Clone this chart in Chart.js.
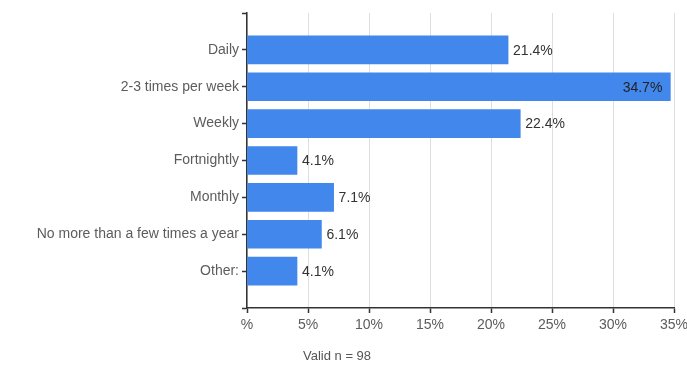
<!DOCTYPE html>
<html>
<head>
<meta charset="utf-8">
<script src="https://cdn.jsdelivr.net/npm/chart.js@4/dist/chart.umd.min.js"></script>
<style>
  html, body { margin: 0; padding: 0; background: #fff; }
  #wrap { width: 687px; height: 369px; }
</style>
</head>
<body>
<div id="wrap"><canvas id="freq-chart"></canvas></div>
<script>
const categories = ['Daily', '2-3 times per week', 'Weekly', 'Fortnightly', 'Monthly', 'No more than a few times a year', 'Other:'];
const percents = [21.4, 34.7, 22.4, 4.1, 7.1, 6.1, 4.1];
const xTicks = [0, 5, 10, 15, 20, 25, 30, 35];
const footnote = 'Valid n = 98';

const FONT = '"Liberation Sans", Arial, sans-serif';

// blank slots above and below so the axis ends get their own tick marks
const labels = [''].concat(categories, ['']);
const values = [null].concat(percents, [null]);

// value labels: after the bar end, or inside it when there's no room
const valueLabels = {
  id: 'valueLabels',
  afterDatasetsDraw(chart) {
    const ctx = chart.ctx;
    const meta = chart.getDatasetMeta(0);
    ctx.save();
    ctx.font = '14px ' + FONT;
    ctx.textBaseline = 'middle';
    meta.data.forEach((bar, i) => {
      const v = values[i];
      if (v == null) return;
      const text = v.toFixed(1) + '%';
      const w = ctx.measureText(text).width;
      if (bar.x + 5 + w > chart.chartArea.right) {
        ctx.textAlign = 'right';
        ctx.fillStyle = '#222';
        ctx.fillText(text, bar.x - 8, bar.y + 1);
      } else {
        ctx.textAlign = 'left';
        ctx.fillStyle = '#333';
        ctx.fillText(text, bar.x + 5, bar.y + 1);
      }
    });
    ctx.restore();
  }
};

const footnoteText = {
  id: 'footnoteText',
  afterDraw(chart) {
    const ctx = chart.ctx;
    const area = chart.chartArea;
    ctx.save();
    ctx.font = '13px ' + FONT;
    ctx.fillStyle = '#555';
    ctx.textAlign = 'left';
    ctx.textBaseline = 'middle';
    ctx.fillText(footnote, area.left + 56, area.bottom + 48);
    ctx.restore();
  }
};

const ctx = document.getElementById('freq-chart').getContext('2d');
const myChart = new Chart(ctx, {
  type: 'bar',
  data: {
    labels: labels,
    datasets: [{
      data: values,
      backgroundColor: '#4287ec',
      borderWidth: 0,
      barThickness: 28
    }]
  },
  options: {
    indexAxis: 'y',
    responsive: true,
    maintainAspectRatio: false,
    animation: false,
    layout: { padding: { top: 13, right: 13, left: 0, bottom: 0 } },
    plugins: {
      legend: { display: false },
      tooltip: { enabled: false }
    },
    scales: {
      y: {
        offset: false,
        grid: {
          offset: false,
          drawOnChartArea: false,
          drawTicks: true,
          tickLength: 5,
          tickColor: '#333',
          tickWidth: 1.5
        },
        border: { display: true, color: '#333', width: 1.5 },
        ticks: {
          autoSkip: false,
          padding: 3,
          color: '#5c5c5c',
          font: { family: FONT, size: 14 }
        },
        afterFit(scale) { scale.width = 247; }
      },
      x: {
        min: 0,
        max: 35,
        afterBuildTicks(scale) { scale.ticks = xTicks.map(v => ({ value: v })); },
        grid: {
          color: '#dedede',
          lineWidth: 1,
          drawTicks: true,
          tickLength: 5,
          tickColor: '#333',
          tickWidth: 1.5
        },
        border: { display: true, color: '#333', width: 1.5 },
        ticks: {
          padding: 4,
          color: '#5c5c5c',
          font: { family: FONT, size: 14 },
          callback: v => v === 0 ? '%' : v + '%'
        },
        afterFit(scale) {
          scale.height = 61;
          scale.paddingLeft = 0;
          scale.paddingRight = 0;
        }
      }
    }
  },
  plugins: [valueLabels, footnoteText]
});
</script>
</body>
</html>
